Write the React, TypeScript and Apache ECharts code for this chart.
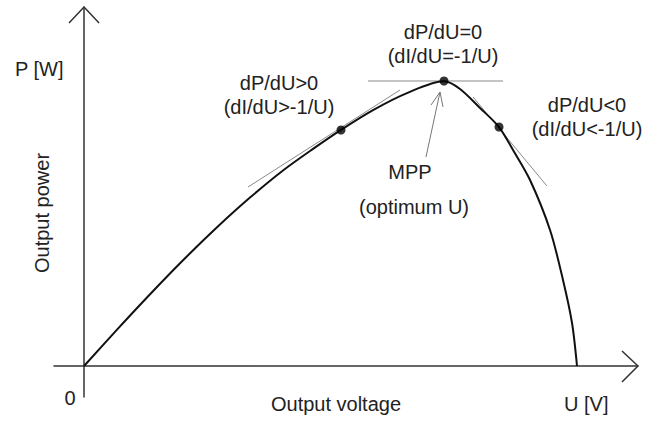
import React, { useEffect, useRef } from "react";
import * as echarts from "echarts";

// P-U curve of a PV source (U in arbitrary units 0..100, P in arbitrary units 0..100)
const curveU = [0, 5.96, 12.09, 18.05, 24.01, 29.96, 35.92, 41.34, 46.39, 52.17, 58.3, 64.98, 67.87, 71.48, 74.91, 77.44, 80.51, 84.12, 86.46, 88.09, 88.99];
const curveP = [0, 10.12, 20.25, 29.72, 38.64, 46.91, 54.46, 60.47, 65.77, 71.28, 76.02, 79.3, 77.16, 71.87, 66.57, 60.17, 51.81, 37.88, 23.96, 11.98, 0];

// operating points: left of MPP, MPP, right of MPP
const pointU = [46.39, 64.98, 74.91];
const pointP = [65.74, 79.39, 66.57];

// tangent segments [u1, p1, u2, p2]
const tangentLeft = [29.6, 49.86, 57.04, 76.88];
const tangentTop = [51.26, 79.39, 75.63, 79.39];
const tangentRight = [70.22, 74.93, 83.57, 50.14];

// MPP pointer arrow
const mppArrowShaft = [[61.73, 58.22], [64.26, 76.32]];
const mppArrowHead = [[62.64, 72.7], [64.26, 76.32], [64.8, 72.14]];

// axis arrowheads
const xArrow = [[97.11, 4.18], [100, 0], [97.11, -4.46]];
const yArrow = [[-2.71, 95.54], [0, 100], [2.71, 95.54]];

const FONT = "'Liberation Sans', Arial, sans-serif";
const TXT = "#222";

export default function App() {
  const ref = useRef<HTMLDivElement>(null);
  useEffect(() => {
    if (!ref.current) return;
    const chart = echarts.init(ref.current, null, { renderer: "svg" });
    const pair = (a: number[]) => [[a[0], a[1]], [a[2], a[3]]];
    const thinGray = (data: number[][], color = "#8a8a8a") => ({
      type: "line",
      data,
      showSymbol: false,
      silent: true,
      clip: false,
      lineStyle: { color, width: 1 },
      z: 1,
    });
    const txt = (text: string, x: number, y: number, align = "center", extra: any = {}) => ({
      type: "text",
      x,
      y,
      ...extra,
      style: { text, fill: TXT, font: `20px ${FONT}`, textAlign: align, textVerticalAlign: "middle", lineHeight: 24 },
    });
    chart.setOption({
      animation: false,
      backgroundColor: "#fff",
      grid: { left: 54, right: 32, top: 7, bottom: 24 },
      xAxis: {
        type: "value",
        min: -5.42,
        max: 100,
        axisLine: { show: true, onZero: true, lineStyle: { color: "#333", width: 1.5 } },
        axisTick: { show: false },
        axisLabel: { show: false },
        splitLine: { show: false },
      },
      yAxis: {
        type: "value",
        min: -8.64,
        max: 100,
        axisLine: { show: true, onZero: true, lineStyle: { color: "#333", width: 1.5 } },
        axisTick: { show: false },
        axisLabel: { show: false },
        splitLine: { show: false },
      },
      series: [
        {
          type: "line",
          data: curveU.map((u, i) => [u, curveP[i]]),
          smooth: 0.3,
          showSymbol: false,
          clip: false,
          lineStyle: { color: "#111", width: 2 },
          z: 3,
        },
        thinGray(pair(tangentLeft)),
        thinGray(pair(tangentTop)),
        thinGray(pair(tangentRight)),
        thinGray(mppArrowShaft, "#777"),
        thinGray(mppArrowHead, "#777"),
        {
          type: "line",
          data: xArrow,
          showSymbol: false,
          clip: false,
          lineStyle: { color: "#333", width: 1.5 },
        },
        {
          type: "line",
          data: yArrow,
          showSymbol: false,
          clip: false,
          lineStyle: { color: "#333", width: 1.5 },
        },
        {
          type: "scatter",
          data: pointU.map((u, i) => [u, pointP[i]]),
          symbolSize: 9,
          itemStyle: { color: "#000" },
          z: 5,
        },
      ],
      graphic: [
        txt("P [W]", 15, 69, "left"),
        txt("0", 70, 398),
        txt("U [V]", 564, 404, "left"),
        txt("Output voltage", 336, 404),
        txt("Output power", 42, 213, "center", { rotation: Math.PI / 2 }),
        txt("dP/dU>0\n(dI/dU>-1/U)", 279, 95),
        txt("dP/dU=0\n(dI/dU=-1/U)", 443, 44),
        txt("dP/dU<0\n(dI/dU<-1/U)", 587, 117),
        txt("MPP", 410, 172),
        txt("(optimum U)", 414, 207),
      ],
    });
    return () => chart.dispose();
  }, []);
  return <div ref={ref} style={{ position: "fixed", left: 0, top: 0, width: 670, height: 421 }} />;
}
